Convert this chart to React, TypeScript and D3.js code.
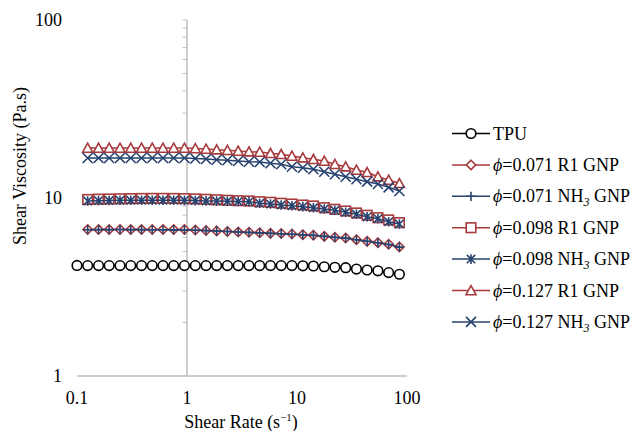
import React from 'react';
import * as d3 from 'd3';

const shearRate = [0.1, 0.125, 0.157, 0.196, 0.246, 0.308, 0.386, 0.483, 0.605, 0.757, 0.948, 1.19, 1.49, 1.86, 2.33, 2.92, 3.66, 4.58, 5.74, 7.18, 8.99, 11.3, 14.1, 17.7, 22.1, 27.7, 34.7, 43.4, 54.4, 68.1, 85.3];

const tpu = [4.18, 4.17, 4.17, 4.17, 4.17, 4.17, 4.17, 4.17, 4.17, 4.17, 4.17, 4.17, 4.17, 4.17, 4.17, 4.17, 4.17, 4.17, 4.17, 4.17, 4.17, 4.16, 4.15, 4.11, 4.08, 4.06, 3.99, 3.94, 3.90, 3.81, 3.73];
const r1_071 = [6.65, 6.65, 6.65, 6.65, 6.65, 6.65, 6.65, 6.65, 6.65, 6.65, 6.61, 6.57, 6.53, 6.48, 6.44, 6.42, 6.38, 6.33, 6.32, 6.28, 6.22, 6.18, 6.09, 6.02, 5.96, 5.83, 5.71, 5.61, 5.50, 5.31];
const nh3_071 = [6.63, 6.64, 6.64, 6.65, 6.64, 6.64, 6.63, 6.63, 6.62, 6.61, 6.59, 6.56, 6.52, 6.48, 6.44, 6.41, 6.37, 6.33, 6.30, 6.26, 6.21, 6.17, 6.09, 6.01, 5.95, 5.83, 5.71, 5.60, 5.48, 5.30];
const r1_098 = [9.81, 9.85, 9.87, 9.90, 9.92, 9.94, 9.95, 9.95, 9.94, 9.92, 9.88, 9.83, 9.77, 9.71, 9.66, 9.62, 9.53, 9.46, 9.34, 9.25, 9.13, 9.02, 8.82, 8.64, 8.45, 8.24, 8.00, 7.75, 7.53, 7.27];
const nh3_098 = [9.62, 9.66, 9.68, 9.71, 9.71, 9.71, 9.71, 9.71, 9.71, 9.70, 9.67, 9.63, 9.61, 9.58, 9.56, 9.53, 9.34, 9.25, 9.13, 9.05, 8.94, 8.82, 8.68, 8.53, 8.31, 8.10, 7.85, 7.65, 7.36, 7.15];
const r1_127 = [19.1, 19.1, 19.1, 19.1, 19.1, 19.1, 19.1, 19.1, 19.1, 19.1, 18.97, 18.85, 18.68, 18.54, 18.37, 18.2, 18.13, 17.83, 17.6, 17.22, 16.85, 16.5, 16.14, 15.47, 14.99, 14.36, 13.94, 13.17, 12.62, 12.09];
const nh3_127 = [16.78, 16.78, 16.78, 16.78, 16.78, 16.78, 16.78, 16.78, 16.78, 16.78, 16.67, 16.56, 16.41, 16.29, 16.14, 15.99, 15.93, 15.67, 15.47, 14.99, 14.8, 14.5, 14.05, 13.59, 13.17, 12.74, 12.35, 11.99, 11.48, 10.95];

const xTicks = [0.1, 1, 10, 100];
const xTickLabels = ['0.1', '1', '10', '100'];
const yTicks = [1, 10, 100];
const yTickLabels = ['1', '10', '100'];

const RED = '#A83A3C';
const BLUE = '#27426E';

type Series = { phi: string | null; nh3: boolean; label: string; values: number[]; start: number; color: string; marker: string };

const series: Series[] = [
  { phi: null, nh3: false, label: 'TPU', values: tpu, start: 0, color: '#000', marker: 'circle' },
  { phi: '0.071', nh3: false, label: 'R1 GNP', values: r1_071, start: 1, color: RED, marker: 'diamond' },
  { phi: '0.071', nh3: true, label: 'GNP', values: nh3_071, start: 1, color: BLUE, marker: 'plus' },
  { phi: '0.098', nh3: false, label: 'R1 GNP', values: r1_098, start: 1, color: RED, marker: 'square' },
  { phi: '0.098', nh3: true, label: 'GNP', values: nh3_098, start: 1, color: BLUE, marker: 'star' },
  { phi: '0.127', nh3: false, label: 'R1 GNP', values: r1_127, start: 1, color: RED, marker: 'triangle' },
  { phi: '0.127', nh3: true, label: 'GNP', values: nh3_127, start: 1, color: BLUE, marker: 'x' },
];

const FONT = '"Liberation Serif", "Times New Roman", serif';
const FS = 18;

function Marker({ type, x, y, color }: { type: string; x: number; y: number; color: string }) {
  const sw = 1.6;
  const t = `translate(${x},${y})`;
  switch (type) {
    case 'circle':
      return <circle cx={x} cy={y} r={4.8} fill="#fff" stroke={color} strokeWidth={sw} />;
    case 'diamond':
      return <path transform={t} d="M0,-4.7L4.7,0L0,4.7L-4.7,0Z" fill="#fff" stroke={color} strokeWidth={sw} />;
    case 'square':
      return <rect x={x - 4.8} y={y - 4.8} width={9.6} height={9.6} fill="#fff" stroke={color} strokeWidth={sw} />;
    case 'triangle':
      return <path transform={t} d="M0,-4.8L5,4.2L-5,4.2Z" fill="#fff" stroke={color} strokeWidth={sw} />;
    case 'plus':
      return <path transform={t} d="M-4.6,0H4.6M0,-4.6V4.6" fill="none" stroke={color} strokeWidth={sw} />;
    case 'star':
      return <path transform={t} d="M-4.2,-4.2L4.2,4.2M4.2,-4.2L-4.2,4.2M0,-4.8V4.8" fill="none" stroke={color} strokeWidth={sw} />;
    case 'x':
      return <path transform={t} d="M-5,-5L5,5M5,-5L-5,5" fill="none" stroke={color} strokeWidth={sw} />;
  }
  return null;
}

export default function App() {
  const W = 632, H = 431;
  const x = d3.scaleLog().domain([0.1, 100]).range([77, 407]);
  const y = d3.scaleLog().domain([1, 100]).range([376, 20]);
  const line = d3.line<[number, number]>().x(d => x(d[0])).y(d => y(d[1]));

  const minorY: number[] = [];
  [1, 10].forEach(b => { for (let i = 1; i <= 10; i++) minorY.push(b * i); });

  const legX = 452, legY0 = 133.5, legDy = 31.4;

  return (
    <svg width={W} height={H} style={{ position: 'absolute', left: 0, top: 0, background: '#fff' }} fontFamily={FONT}>
      <rect width={W} height={H} fill="#fff" />
      <line x1={x(0.1)} x2={x(100)} y1={y(1)} y2={y(1)} stroke="#BFBFBF" strokeWidth={1.5} />
      <line x1={x(1)} x2={x(1)} y1={y(1)} y2={y(100)} stroke="#BFBFBF" strokeWidth={1.5} />
      {minorY.map((v, i) => (
        <line key={i} x1={x(1) - 4.5} x2={x(1)} y1={y(v)} y2={y(v)} stroke="#BFBFBF" strokeWidth={1} />
      ))}
      {yTicks.map((v, i) => (
        <text key={i} x={62} y={y(v) + 6} textAnchor="end" fontSize={FS} fill="#000">{yTickLabels[i]}</text>
      ))}
      {xTicks.map((v, i) => (
        <text key={i} x={x(v)} y={404} textAnchor="middle" fontSize={FS} fill="#000">{xTickLabels[i]}</text>
      ))}
      <text x={241} y={428} textAnchor="middle" fontSize={FS} fill="#000">
        Shear Rate (s<tspan dy={-7} fontSize={11}>−1</tspan><tspan dy={7}>)</tspan>
      </text>
      <text transform="translate(26,166) rotate(-90)" textAnchor="middle" fontSize={FS} fill="#000">Shear Viscosity (Pa.s)</text>

      {series.map((s, si) => {
        const pts: [number, number][] = s.values.map((v, i) => [shearRate[i + s.start], v]);
        return (
          <g key={si}>
            <path d={line(pts) || ''} fill="none" stroke={s.color} strokeWidth={1.5} />
            {pts.map((p, i) => (
              <Marker key={i} type={s.marker} x={x(p[0])} y={y(p[1])} color={s.color} />
            ))}
          </g>
        );
      })}

      {series.map((s, si) => {
        const ly = legY0 + si * legDy;
        return (
          <g key={si}>
            <line x1={legX} x2={legX + 38} y1={ly} y2={ly} stroke={s.color} strokeWidth={1.5} />
            <Marker type={s.marker} x={legX + 19} y={ly} color={s.color} />
            {s.phi === null ? (
              <text x={legX + 41} y={ly + 6} fontSize={FS} fill="#000">{s.label}</text>
            ) : (
              <text x={legX + 41} y={ly + 6} fontSize={FS} fill="#000">
                <tspan fontStyle="italic">ϕ</tspan>
                <tspan>{`=${s.phi} `}</tspan>
                {s.nh3 ? (
                  <>
                    <tspan>NH</tspan>
                    <tspan dy={4} fontSize={12} fontStyle="italic">3</tspan>
                    <tspan dy={-4}>{` ${s.label}`}</tspan>
                  </>
                ) : (
                  <tspan>{s.label}</tspan>
                )}
              </text>
            )}
          </g>
        );
      })}
    </svg>
  );
}
